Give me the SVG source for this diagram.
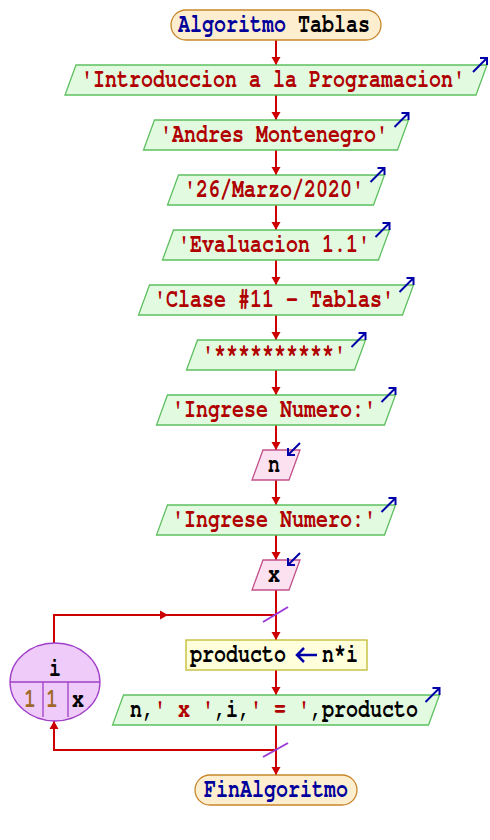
<svg xmlns="http://www.w3.org/2000/svg" width="490" height="840" viewBox="0 0 490 840">
<defs>
<style>
text{font-family:"FreeMono","Liberation Mono",monospace;font-size:20px;font-weight:bold}
.term{fill:#fdeecf;stroke:#c8862a;stroke-width:1.3}
.out{fill:#e2fbe0;stroke:#5ec060;stroke-width:1.3}
.inp{fill:#fce2f0;stroke:#c2508a;stroke-width:1.3}
.asg{fill:#ffffdc;stroke:#c0b830;stroke-width:1.3}
.loop{fill:#eecbf8;stroke:#a040c8;stroke-width:1.3}
.kw{fill:#00009c}
.str{fill:#b00000}
.blk{fill:#000000}
.num{fill:#a06828}
.ico{stroke:#0000a8;stroke-width:2;fill:none}
.ln{stroke:#cc0000;stroke-width:2;fill:none}
.ah{fill:#cc0000}
.sl{stroke:#9c3ad8;stroke-width:2}
</style>
</defs>
<g id="connectors">
<path class="ln" d="M276 40V65M276 95V120M276 150V175M276 205V230M276 260V285M276 315V340M276 370V395M276 425V450M276 480V505M276 535V560M276 590V640M276 670V695M276 725V775"/>
<path class="ln" d="M54 643V615H276M276 750H54V721"/>
<g class="ah">
<polygon points="276,65 271.5,57 280.5,57"/>
<polygon points="276,120 271.5,112 280.5,112"/>
<polygon points="276,175 271.5,167 280.5,167"/>
<polygon points="276,230 271.5,222 280.5,222"/>
<polygon points="276,285 271.5,277 280.5,277"/>
<polygon points="276,340 271.5,332 280.5,332"/>
<polygon points="276,395 271.5,387 280.5,387"/>
<polygon points="276,450 271.5,442 280.5,442"/>
<polygon points="276,505 271.5,497 280.5,497"/>
<polygon points="276,560 271.5,552 280.5,552"/>
<polygon points="276,640 271.5,632 280.5,632"/>
<polygon points="276,695 271.5,687 280.5,687"/>
<polygon points="276,775 271.5,767 280.5,767"/>
<polygon points="168,615 160,610.5 160,619.5"/>
<polygon points="54,721 49.5,729 58.5,729"/>
</g>
<line class="sl" x1="263" y1="622" x2="288" y2="607"/>
<line class="sl" x1="263" y1="757" x2="288" y2="743"/>
</g>
<g id="start">
<rect class="term" x="171" y="10" width="210" height="30" rx="15"/>
<text transform="translate(274,32) scale(1,1.3)" text-anchor="middle"><tspan class="kw">Algoritmo</tspan><tspan class="blk"> Tablas</tspan></text>
</g>
<g id="out1">
<polygon class="out" points="76,65 487,65 476,95 65,95"/>
<text class="str" transform="translate(273,87) scale(1,1.3)" text-anchor="middle">'Introduccion a la Programacion'</text>
<path class="ico" d="M473 72L487 58M480 58H487V65"/>
</g>
<g id="out2">
<polygon class="out" points="154.5,120 408.5,120 397.5,150 143.5,150"/>
<text class="str" transform="translate(274,142) scale(1,1.3)" text-anchor="middle">'Andres Montenegro'</text>
<path class="ico" d="M394.5 127L408.5 113M401.5 113H408.5V120"/>
</g>
<g id="out3">
<polygon class="out" points="178.5,175 384.5,175 373.5,205 167.5,205"/>
<text class="str" transform="translate(274,197) scale(1,1.3)" text-anchor="middle">'26/Marzo/2020'</text>
<path class="ico" d="M370.5 182L384.5 168M377.5 168H384.5V175"/>
</g>
<g id="out4">
<polygon class="out" points="173.5,230 389.5,230 378.5,260 162.5,260"/>
<text class="str" transform="translate(274,252) scale(1,1.3)" text-anchor="middle">'Evaluacion 1.1'</text>
<path class="ico" d="M375.5 237L389.5 223M382.5 223H389.5V230"/>
</g>
<g id="out5">
<polygon class="out" points="149.5,285 413.5,285 402.5,315 138.5,315"/>
<text class="str" transform="translate(274,307) scale(1,1.3)" text-anchor="middle">'Clase #11 - Tablas'</text>
<path class="ico" d="M399.5 292L413.5 278M406.5 278H413.5V285"/>
</g>
<g id="out6">
<polygon class="out" points="197.5,340 365.5,340 354.5,370 186.5,370"/>
<text class="str" transform="translate(274,362) scale(1,1.3)" text-anchor="middle">'**********'</text>
<path class="ico" d="M351.5 347L365.5 333M358.5 333H365.5V340"/>
</g>
<g id="out7">
<polygon class="out" points="167.5,395 395.5,395 384.5,425 156.5,425"/>
<text class="str" transform="translate(274,417) scale(1,1.3)" text-anchor="middle">'Ingrese Numero:'</text>
<path class="ico" d="M381.5 402L395.5 388M388.5 388H395.5V395"/>
</g>
<g id="in1">
<polygon class="inp" points="263,450 300,450 289,480 252,480"/>
<text class="blk" transform="translate(274,472) scale(1,1.3)" text-anchor="middle">n</text>
<path class="ico" d="M300 443L288 455M288 448V455H295"/>
</g>
<g id="out8">
<polygon class="out" points="167.5,505 395.5,505 384.5,535 156.5,535"/>
<text class="str" transform="translate(274,527) scale(1,1.3)" text-anchor="middle">'Ingrese Numero:'</text>
<path class="ico" d="M381.5 512L395.5 498M388.5 498H395.5V505"/>
</g>
<g id="in2">
<polygon class="inp" points="263,560 300,560 289,590 252,590"/>
<text class="blk" transform="translate(274,582) scale(1,1.3)" text-anchor="middle">x</text>
<path class="ico" d="M300 553L288 565M288 558V565H295"/>
</g>
<g id="loop">
<ellipse class="loop" cx="55" cy="682" rx="45" ry="39"/>
<path stroke="#a040c8" stroke-width="1.3" d="M10 682H100M43 682V717M68 682V717"/>
<text class="blk" transform="translate(55,676) scale(1,1.3)" text-anchor="middle">i</text>
<text class="num" transform="translate(30,707) scale(1,1.3)" text-anchor="middle">1</text>
<text class="num" transform="translate(52,707) scale(1,1.3)" text-anchor="middle">1</text>
<text class="blk" transform="translate(78,707) scale(1,1.3)" text-anchor="middle">x</text>
</g>
<g id="assign">
<rect class="asg" x="186" y="640" width="181" height="30"/>
<text class="blk" transform="translate(190,662) scale(1,1.3)">producto</text>
<path stroke="#0000a8" stroke-width="2.5" fill="none" d="M317 655H297M304 648L297 655L304 662"/>
<text class="blk" transform="translate(322,662) scale(1,1.3)">n*i</text>
</g>
<g id="out9">
<polygon class="out" points="123.5,695 439.5,695 428.5,725 112.5,725"/>
<text transform="translate(274,717) scale(1,1.3)" text-anchor="middle"><tspan class="blk">n,</tspan><tspan class="str">' x '</tspan><tspan class="blk">,i,</tspan><tspan class="str">' = '</tspan><tspan class="blk">,producto</tspan></text>
<path class="ico" d="M425.5 702L439.5 688M432.5 688H439.5V695"/>
</g>
<g id="end">
<rect class="term" x="195" y="775" width="162" height="30" rx="15"/>
<text class="kw" transform="translate(276,797) scale(1,1.3)" text-anchor="middle">FinAlgoritmo</text>
</g>
</svg>
